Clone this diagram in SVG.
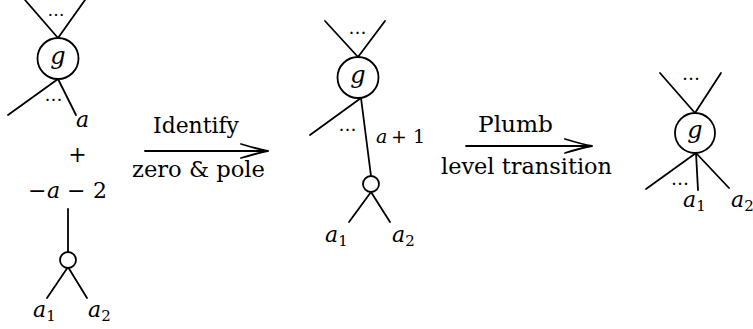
<svg xmlns="http://www.w3.org/2000/svg" width="753" height="329" viewBox="0 0 753 329">
<style>
.e{stroke:#000;stroke-width:1.8;fill:none;stroke-linecap:round}
.v{stroke:#000;stroke-width:1.8;fill:#fff}
.t{font-family:'DejaVu Serif','Liberation Serif',serif;font-size:22px;fill:#000}
.m{font-family:'DejaVu Serif','Liberation Serif',serif;font-size:22px;font-style:italic;fill:#000}
.g{font-size:24px}
.r{font-style:normal}
.s{font-size:15px;font-style:normal}
.d{font-family:'DejaVu Serif','Liberation Serif',serif;font-size:18px;fill:#000;text-anchor:middle}
.c{text-anchor:middle}
</style>
<defs>
<marker id="arr" viewBox="-29 -9 31 18" refX="0" refY="0" markerWidth="31" markerHeight="18" markerUnits="userSpaceOnUse" orient="auto">
<path d="M-27,-7 Q-9,-1.5 0,0 Q-9,1.5 -27,7" fill="none" stroke="#000" stroke-width="1.8" stroke-linecap="round"/>
</marker>
</defs>

<g id="left-diagram">
  <g id="left-g">
    <line class="e" x1="25" y1="0" x2="58" y2="38"/>
    <line class="e" x1="85" y1="0" x2="58" y2="38"/>
    <text class="d" x="56" y="15.5" style="font-size:17px">…</text>
    <line class="e" x1="58" y1="79" x2="8" y2="115"/>
    <line class="e" x1="58" y1="79" x2="76" y2="115"/>
    <text class="d" x="53.5" y="101">…</text>
    <circle class="v" cx="58" cy="58.5" r="20.5"/>
    <text class="m g c" x="58" y="63.5">g</text>
    <text class="m" x="76" y="127">a</text>
  </g>
  <text class="t c" x="77.5" y="162">+</text>
  <text class="m" y="198"><tspan class="r" x="28">−</tspan><tspan x="47">a</tspan><tspan class="r" x="67">−</tspan><tspan class="r" x="93">2</tspan></text>
  <g id="left-pole">
    <line class="e" x1="68" y1="209" x2="68" y2="252"/>
    <line class="e" x1="68" y1="267" x2="47" y2="298"/>
    <line class="e" x1="68" y1="267" x2="87" y2="298"/>
    <circle class="v" cx="68" cy="260" r="8"/>
    <text class="m" x="33" y="317">a<tspan class="s" dy="3.5">1</tspan></text>
    <text class="m" x="88" y="317">a<tspan class="s" dy="3.5">2</tspan></text>
  </g>
</g>

<g id="middle-diagram">
  <g id="middle-g">
    <line class="e" x1="325" y1="21" x2="358" y2="57"/>
    <line class="e" x1="385" y1="21" x2="358" y2="57"/>
    <text class="d" x="357.5" y="34">…</text>
    <line class="e" x1="361" y1="98" x2="310" y2="135"/>
    <text class="d" x="347.5" y="131">…</text>
    <circle class="v" cx="358" cy="77.5" r="20.5"/>
    <text class="m g c" x="358" y="82.5">g</text>
  </g>
  <line class="e" x1="361" y1="98" x2="371" y2="176"/>
  <text class="m" y="143" style="font-size:19px"><tspan x="376">a</tspan><tspan class="r" x="391">+</tspan><tspan class="r" x="413">1</tspan></text>
  <g id="middle-pole">
    <line class="e" x1="371" y1="192" x2="349" y2="222"/>
    <line class="e" x1="371" y1="192" x2="390" y2="222"/>
    <circle class="v" cx="371" cy="184" r="8"/>
    <text class="m" x="325" y="242">a<tspan class="s" dy="3.5">1</tspan></text>
    <text class="m" x="392" y="242">a<tspan class="s" dy="3.5">2</tspan></text>
  </g>
</g>

<g id="right-diagram">
  <g id="right-g">
    <line class="e" x1="660" y1="73" x2="695" y2="113"/>
    <line class="e" x1="721" y1="73" x2="695" y2="113"/>
    <text class="d" x="691" y="80">…</text>
    <line class="e" x1="696" y1="153" x2="646" y2="189"/>
    <line class="e" x1="696" y1="153" x2="698" y2="190"/>
    <line class="e" x1="696" y1="153" x2="729" y2="188"/>
    <text class="d" x="680" y="184.5">…</text>
    <circle class="v" cx="695" cy="133" r="20"/>
    <text class="m g c" x="695" y="138">g</text>
    <text class="m" x="683" y="207">a<tspan class="s" dy="3.5">1</tspan></text>
    <text class="m" x="731" y="207">a<tspan class="s" dy="3.5">2</tspan></text>
  </g>
</g>

<g id="connectors">
  <line class="e" x1="145" y1="151" x2="268" y2="151" marker-end="url(#arr)"/>
  <text class="t c" x="196" y="133" textLength="86" lengthAdjust="spacingAndGlyphs">Identify</text>
  <text class="t c" x="198.5" y="177" textLength="133" lengthAdjust="spacingAndGlyphs">zero &amp; pole</text>
  <line class="e" x1="466" y1="146" x2="592" y2="146" marker-end="url(#arr)"/>
  <text class="t c" x="515.5" y="132" textLength="75" lengthAdjust="spacingAndGlyphs">Plumb</text>
  <text class="t c" x="526.5" y="174" textLength="171" lengthAdjust="spacingAndGlyphs">level transition</text>
</g>
</svg>
